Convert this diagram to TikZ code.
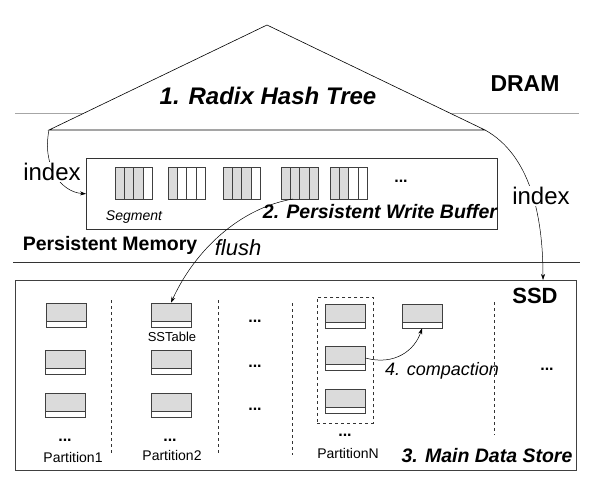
\documentclass[tikz,border=0pt]{standalone}
\usepackage{fontspec}
\setmainfont{Liberation Sans}
\usetikzlibrary{arrows.meta}
\newcommand\fs[1]{\fontsize{#1}{#1}\selectfont}
\begin{document}
\begin{tikzpicture}[x=1pt,y=-1pt,
  thinline/.style={line width=0.6pt},
  arr/.style={line width=0.5pt,-{Stealth[length=6pt,width=4pt]}},
  lbl/.style={inner sep=1pt},
  sst/.style={draw=black!75, line width=0.6pt, fill=gray!28, minimum width=40pt, minimum height=24pt, inner sep=0pt,
    path picture={\fill[white] (path picture bounding box.south west) rectangle ([yshift=6pt]path picture bounding box.south east);
      \draw[black!75,line width=0.6pt] ([yshift=6pt]path picture bounding box.south west) -- ([yshift=6pt]path picture bounding box.south east);}},
  divider/.style={dashed, line width=0.6pt, black!80},
  dots/.style={font=\fs{16}\bfseries, inner sep=0pt}
]
\useasboundingbox (0,0) rectangle (593,483);
% layer lines
\draw[gray!70, line width=0.8pt] (15,113) -- (579,113);
\draw[black!80, line width=0.8pt] (13,262) -- (580,262);
% radix hash tree triangle
\coordinate (tl) at (49,130);
\coordinate (tp) at (267,25);
\coordinate (tr) at (485,130);
\draw[thinline, fill=white] (tl) -- (tp) -- (tr) -- cycle;
\node[lbl, font=\fs{24}\bfseries\itshape] (rht) at (268,96) {1. Radix Hash Tree};
\node[lbl, font=\fs{23}\bfseries] (dram) at (525,84) {DRAM};
% write buffer
\node[draw=black!80, thinline, anchor=north west, minimum width=411pt, minimum height=71pt, inner sep=0pt] (wb) at (86,158) {};
\newcommand\seg[5]{%
  \foreach \i/\c in {0/#2,1/#3,2/#4,3/#5}
    \filldraw[fill=\c, draw=black!75, line width=0.5pt] (#1+\i*9.25,167) rectangle ++(9.25,32);}
\seg{115}{gray!28}{gray!28}{gray!28}{white}
\seg{168}{gray!28}{white}{white}{white}
\seg{223}{gray!28}{gray!28}{gray!28}{white}
\seg{281}{gray!28}{gray!28}{gray!28}{gray!28}
\seg{330}{gray!28}{gray!28}{white}{white}
\node[dots] (wbdots) at (401,181) {...};
\node[lbl, font=\fs{14}\itshape] (segl) at (134,217) {Segment};
\node[lbl, font=\fs{19.5}\bfseries\itshape] (pwb) at (380,212) {2. Persistent Write Buffer};
\coordinate (s4) at (293,199);
% labels of layers
\node[lbl, font=\fs{19.5}\bfseries] (pm) at (110,245) {Persistent Memory};
% index arrows
\draw[arr] (tl) .. controls (42,165) and (60,192) .. (wb.west);
\node[lbl, fill=white, font=\fs{24}] (idxl) at (52,172) {index};
\draw[arr] (tr) .. controls (530,155) and (543,215) .. (543,280);
\node[lbl, fill=white, font=\fs{24}] (idxr) at (541,196) {index};
% SSD
\node[draw=black!75, thinline, anchor=north west, minimum width=561pt, minimum height=190pt, inner sep=0pt] (ssd) at (15,280) {};
\node[lbl, font=\fs{22}\bfseries] (ssdl) at (535,296) {SSD};
% partition 1
\node[sst] (a1) at (66,315) {};
\node[sst] (a2) at (65,362) {};
\node[sst] (a3) at (65,405) {};
\node[dots] (ad) at (65,440) {...};
\node[lbl, font=\fs{14}] (p1) at (73,457) {Partition1};
\draw[divider] (111,300) -- (111,455);
% partition 2
\node[sst] (b1) at (171,315) {};
\node[lbl, font=\fs{13}] (sstl) at (172,337) {SSTable};
\node[sst] (b2) at (171,362) {};
\node[sst] (b3) at (171,405) {};
\node[dots] (bd) at (170,440) {...};
\node[lbl, font=\fs{14}] (p2) at (172,455) {Partition2};
\draw[divider] (218,300) -- (218,455);
% column 3
\node[dots] (c1) at (255,321) {...};
\node[dots] (c2) at (255,366) {...};
\node[dots] (c3) at (255,409) {...};
\draw[divider] (292,303) -- (292,455);
% partition N
\node[draw=black!80, dashed, line width=0.6pt, anchor=north west, minimum width=56pt, minimum height=126pt, inner sep=0pt] (pn) at (317,297) {};
\node[sst] (n1) at (345,316) {};
\node[sst] (n2) at (345,358) {};
\node[sst] (n3) at (345,401) {};
\node[dots] (nd) at (345,435) {...};
\node[lbl, font=\fs{14}] (pnl) at (348,453) {PartitionN};
\node[sst] (m1) at (422,316) {};
\node[lbl, font=\fs{18}\itshape] (comp) at (442,371) {4. compaction};
\draw[divider] (494,302) -- (494,435);
\node[dots] (ed) at (547,369) {...};
\node[lbl, font=\fs{19.5}\bfseries\itshape] (mds) at (487,456) {3. Main Data Store};
% flush and compaction arrows
\draw[arr] (s4) .. controls (240,208) and (195,250) .. (b1.north);
\node[lbl, font=\fs{22}\itshape] (fl) at (238,248) {flush};
\draw[arr] (n2.east) .. controls (395,366) and (415,350) .. (m1.south);
\end{tikzpicture}
\end{document}
